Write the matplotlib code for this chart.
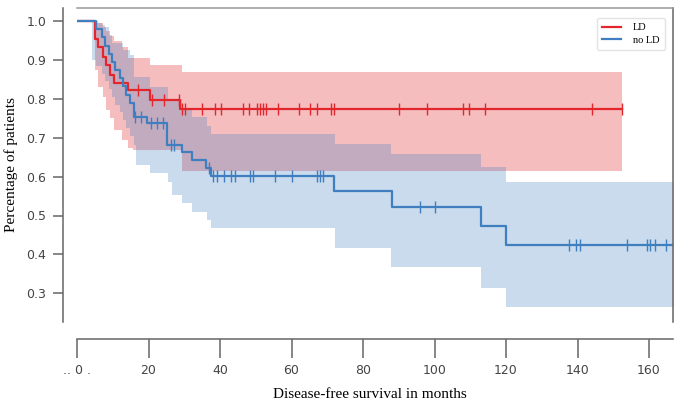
import matplotlib

matplotlib.use("Agg")
import matplotlib.pyplot as plt

# Kaplan-Meier curves, months vs survival fraction
ld_t = [0, 5.0, 6.0, 7.2, 8.2, 9.3, 10.3, 14.4, 20.4, 28.7, 152.5]
ld_s = [1.0, 0.955, 0.934, 0.908, 0.887, 0.861, 0.84, 0.823, 0.797, 0.773, 0.773]
ld_censor = [17.2, 21.0, 24.2, 28.4, 29.3, 30.1, 35.1, 38.6, 40.2, 46.5, 48.1,
             50.3, 51.2, 52.1, 53.0, 56.3, 62.1, 65.3, 67.0, 71.1, 72.0, 90.1,
             98.0, 108.1, 109.7, 114.1, 144.0, 152.3]

ld_ci_t = [0, 5.0, 6.0, 7.2, 8.2, 9.3, 10.3, 12.5, 14.3, 15.7, 20.4, 29.3, 152.5]
ld_ci_hi = [1.0, 1.0, 0.995, 0.985, 0.975, 0.962, 0.948, 0.932, 0.906, 0.904, 0.887, 0.869, 0.869]
ld_ci_lo = [1.0, 0.875, 0.83, 0.805, 0.77, 0.75, 0.72, 0.694, 0.673, 0.668, 0.668, 0.615, 0.615]

nold_t = [0, 5.3, 7.0, 7.8, 9.0, 9.7, 10.6, 12.0, 12.8, 13.8, 14.8, 15.9, 19.5,
          25.3, 29.3, 32.1, 36.2, 37.5, 72.0, 88.0, 113.0, 120.0, 167.0]
nold_s = [1.0, 0.979, 0.958, 0.937, 0.916, 0.895, 0.874, 0.853, 0.832, 0.811,
          0.79, 0.752, 0.737, 0.68, 0.663, 0.643, 0.621, 0.601, 0.562, 0.521,
          0.473, 0.425, 0.425]
nold_censor = [16.3, 18.0, 20.7, 22.3, 24.0, 26.3, 27.1, 36.8, 38.1, 39.1, 41.1,
               43.2, 44.2, 48.4, 49.1, 55.4, 60.2, 67.0, 68.1, 68.9, 95.9, 100.1,
               137.7, 139.7, 140.7, 153.8, 159.5, 160.4, 161.7, 164.7]

nold_ci_t = [0, 4.1, 5.3, 7.0, 7.8, 9.0, 9.7, 10.6, 12.0, 12.9, 13.8, 14.8, 15.9,
             16.4, 20.3, 25.4, 26.5, 29.3, 32.3, 36.3, 37.4, 72.1, 87.9, 112.9,
             119.9, 167.0]
nold_ci_hi = [1.0, 1.0, 0.995, 0.99, 0.985, 0.965, 0.943, 0.943, 0.943, 0.925,
              0.925, 0.913, 0.857, 0.857, 0.83, 0.80, 0.80, 0.776, 0.752, 0.73,
              0.709, 0.684, 0.657, 0.624, 0.587, 0.587]
nold_ci_lo = [1.0, 0.90, 0.885, 0.865, 0.845, 0.825, 0.805, 0.785, 0.765, 0.745,
              0.725, 0.705, 0.68, 0.63, 0.608, 0.587, 0.553, 0.531, 0.51, 0.488,
              0.467, 0.416, 0.368, 0.313, 0.265, 0.265]

xticks = [0, 20, 40, 60, 80, 100, 120, 140, 160]
xtick_labels = [".. 0 .", "20", "40", "60", "80", "100", "120", "140", "160"]
yticks = [0.3, 0.4, 0.5, 0.6, 0.7, 0.8, 0.9, 1.0]

RED = "#e3262b"
BLUE = "#3f7fbf"
SERIF = "Liberation Serif"


def step_at(ts, ss, x):
    # value of a post-step function at x
    v = ss[0]
    for t, s in zip(ts, ss):
        if t <= x:
            v = s
    return v


fig = plt.figure(figsize=(6.76, 4.05), dpi=100)
ax = fig.add_axes([77 / 676, 1 - 322 / 405, 596 / 676, 314 / 405])

ax.fill_between(ld_ci_t, ld_ci_lo, ld_ci_hi, step="post", color=RED, alpha=0.3, lw=0)
ax.fill_between(nold_ci_t, nold_ci_lo, nold_ci_hi, step="post", color=BLUE, alpha=0.28, lw=0)

ax.step(ld_t, ld_s, where="post", color=RED, lw=1.6, label="LD")
ax.step(nold_t, nold_s, where="post", color=BLUE, lw=1.6, label="no LD")

ax.plot(ld_censor, [step_at(ld_t, ld_s, c) for c in ld_censor], ls="none",
        marker="|", ms=9, mew=1.0, color=RED)
ax.plot(nold_censor, [step_at(nold_t, nold_s, c) for c in nold_censor], ls="none",
        marker="|", ms=9, mew=1.0, color=BLUE)

ax.set_xlim(0, 166.7)
ax.set_ylim(1.0 - 301 / 389, 1.0 + 13 / 389)

spine_col = "#666666"
for side in ["left", "right", "top", "bottom"]:
    ax.spines[side].set_color(spine_col)
    ax.spines[side].set_linewidth(1.1)
ax.spines["left"].set_position(("outward", 10))
ax.spines["bottom"].set_position(("outward", 12))
ax.spines["top"].set_color("#999999")

ax.set_xticks(xticks)
ax.set_xticklabels(xtick_labels)
ax.set_yticks(yticks)
ax.tick_params(axis="x", length=14, width=1.1, color=spine_col, pad=4,
               labelsize=9, labelcolor="#444444")
ax.tick_params(axis="y", length=7, width=1.1, color=spine_col, pad=5,
               labelsize=9, labelcolor="#444444")

ax.set_ylabel("Percentage of patients", family=SERIF, fontsize=11, labelpad=6)
fig.text(370 / 676, 1 - 395 / 405, "Disease-free survival in months",
         family=SERIF, fontsize=11, ha="center", va="center")

leg = ax.legend(loc="upper right", prop={"family": SERIF, "size": 7.5},
                handlelength=1.8, frameon=True, borderpad=0.5,
                labelspacing=0.3, handletextpad=1.2,
                bbox_to_anchor=(0.995, 0.985))
leg.get_frame().set_edgecolor("#dddddd")

fig.savefig("out.png", dpi=100)
